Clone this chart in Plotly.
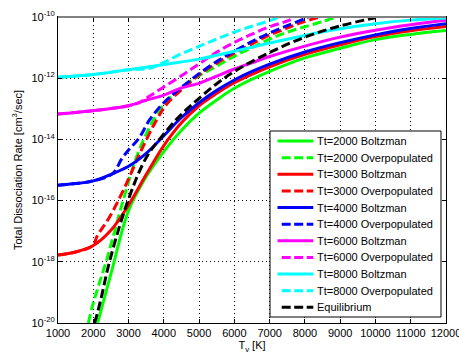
import plotly.graph_objects as go

# ---------------- data ----------------
# Tt=2000 Boltzman
t_2000_b = [2124, 2500, 3000, 3500, 4000, 4500, 5000, 5500, 6000, 7000, 8000, 9000, 10000, 11000, 12000]
k_2000_b = [1.0e-20, 4.0e-19, 4.7e-17, 6.0e-16, 4.0e-15, 2.0e-14, 7.2e-14, 1.95e-13, 4.7e-13, 1.66e-12, 4.6e-12, 9.5e-12, 1.82e-11, 2.7e-11, 3.6e-11]
# Tt=2000 Overpopulated
t_2000_o = [1860, 2000, 2400, 2850, 3230, 3500, 3700, 4000, 4500, 5000, 5500, 6000, 6500, 7000, 7500, 8000, 8500, 8900]
k_2000_o = [1.0e-20, 4.5e-20, 1.4e-18, 1.05e-16, 2.75e-15, 1.5e-14, 4.2e-14, 1.4e-13, 5.0e-13, 1.2e-12, 2.5e-12, 5.2e-12, 1.0e-11, 1.9e-11, 3.2e-11, 4.8e-11, 7.1e-11, 1.0e-10]
# Tt=3000 Boltzman
t_3000_b = [1000, 1500, 2000, 2500, 3000, 3500, 4000, 4500, 5000, 5500, 6000, 7000, 8000, 9000, 10000, 11000, 12000]
k_3000_b = [1.66e-18, 2.1e-18, 3.4e-18, 1.07e-17, 7.1e-17, 7.1e-16, 6.3e-15, 3.5e-14, 1.26e-13, 3.2e-13, 7.1e-13, 2.35e-12, 6.0e-12, 1.23e-11, 2.3e-11, 3.55e-11, 4.9e-11]
# Tt=3000 Overpopulated
t_3000_o = [1000, 1500, 2000, 2100, 2470, 2940, 3320, 3800, 4100, 4550, 5000, 5500, 6000, 6450, 6900, 7400, 7850, 8430]
k_3000_o = [1.66e-18, 2.1e-18, 3.4e-18, 6.6e-18, 3.0e-17, 3.6e-16, 3.5e-15, 4.4e-14, 1.5e-13, 4.7e-13, 1.29e-12, 3.1e-12, 6.6e-12, 1.23e-11, 2.3e-11, 3.9e-11, 6.3e-11, 1.0e-10]
# Tt=4000 Boltzman
t_4000_b = [1000, 1500, 2000, 2550, 3000, 3500, 4000, 4500, 5000, 5500, 6000, 6500, 7000, 8000, 9000, 10000, 11000, 12000]
k_4000_b = [3.2e-16, 3.6e-16, 4.4e-16, 7.6e-16, 1.32e-15, 3.5e-15, 1.32e-14, 5.2e-14, 1.58e-13, 4.0e-13, 8.7e-13, 1.66e-12, 2.9e-12, 7.2e-12, 1.45e-11, 2.6e-11, 4.2e-11, 6.0e-11]
# Tt=4000 Overpopulated
t_4000_o = [1000, 1500, 2000, 2550, 2800, 3000, 3300, 3600, 4000, 4500, 5000, 5500, 6000, 6500, 7000, 7500, 8000, 8100]
k_4000_o = [3.2e-16, 3.6e-16, 4.4e-16, 7.6e-16, 2.25e-15, 4.5e-15, 1.12e-14, 4.4e-14, 1.58e-13, 5.0e-13, 1.41e-12, 3.5e-12, 7.6e-12, 1.58e-11, 3.0e-11, 5.2e-11, 8.9e-11, 1.0e-10]
# Tt=6000 Boltzman
t_6000_b = [1000, 1500, 2000, 2500, 3000, 3500, 4000, 4500, 5000, 5500, 6000, 6500, 7000, 8000, 9000, 10000, 11000, 12000]
k_6000_b = [6.8e-14, 7.6e-14, 8.7e-14, 1.02e-13, 1.26e-13, 1.9e-13, 2.8e-13, 4.8e-13, 6.8e-13, 1.17e-12, 2.0e-12, 3.2e-12, 5.1e-12, 1.12e-11, 2.2e-11, 3.7e-11, 5.6e-11, 7.8e-11]
# Tt=6000 Overpopulated
t_6000_o = [1000, 1500, 2000, 2500, 3000, 3300, 3600, 4000, 4500, 5000, 5500, 6000, 6500, 7000, 7500, 7700]
k_6000_o = [6.8e-14, 7.6e-14, 8.7e-14, 1.02e-13, 1.26e-13, 1.6e-13, 2.6e-13, 5.2e-13, 1.2e-12, 2.95e-12, 7.1e-12, 1.48e-11, 2.75e-11, 4.8e-11, 7.4e-11, 9.3e-11]
# Tt=8000 Boltzman
t_8000_b = [1000, 2000, 3000, 4000, 5000, 6000, 7000, 8000, 9000, 10000, 11000, 12000]
k_8000_b = [1.07e-12, 1.32e-12, 1.9e-12, 2.8e-12, 4.2e-12, 7.6e-12, 1.41e-11, 2.5e-11, 4.1e-11, 6.0e-11, 7.9e-11, 9.3e-11]
# Tt=8000 Overpopulated
t_8000_o = [1000, 2000, 3000, 3600, 4000, 4500, 5000, 5500, 6000, 6500, 7000, 7300]
k_8000_o = [1.07e-12, 1.32e-12, 1.9e-12, 2.1e-12, 3.3e-12, 6.3e-12, 1.1e-11, 1.9e-11, 3.2e-11, 5.0e-11, 7.6e-11, 1.0e-10]
# Equilibrium
t_eq = [2040, 2200, 2470, 2990, 3500, 4000, 4500, 5000, 5500, 6000, 7000, 8000, 9000, 10000]
k_eq = [1.0e-20, 5.0e-20, 1.12e-18, 1.05e-16, 2.5e-15, 1.5e-14, 6.6e-14, 2.2e-13, 6.6e-13, 1.66e-12, 6.9e-12, 2.2e-11, 5.1e-11, 9.5e-11]

series_names = ["Tt=2000 Boltzman", "Tt=2000 Overpopulated",
                "Tt=3000 Boltzman", "Tt=3000 Overpopulated",
                "Tt=4000 Boltzman", "Tt=4000 Overpopulated",
                "Tt=6000 Boltzman", "Tt=6000 Overpopulated",
                "Tt=8000 Boltzman", "Tt=8000 Overpopulated",
                "Equilibrium"]
series_x = [t_2000_b, t_2000_o, t_3000_b, t_3000_o, t_4000_b, t_4000_o,
            t_6000_b, t_6000_o, t_8000_b, t_8000_o, t_eq]
series_y = [k_2000_b, k_2000_o, k_3000_b, k_3000_o, k_4000_b, k_4000_o,
            k_6000_b, k_6000_o, k_8000_b, k_8000_o, k_eq]

x_ticks = [1000, 2000, 3000, 4000, 5000, 6000, 7000, 8000, 9000, 10000, 11000, 12000]
x_ticktext = [str(v) for v in x_ticks]
y_ticks = [1e-20, 1e-18, 1e-16, 1e-14, 1e-12, 1e-10]
y_ticktext = ["10<sup>-20</sup>", "10<sup>-18</sup>", "10<sup>-16</sup>",
              "10<sup>-14</sup>", "10<sup>-12</sup>", "10<sup>-10</sup>"]

# ---------------- styles ----------------
colors = ["#00ff00", "#00ff00", "#ff0000", "#ff0000", "#0000ff", "#0000ff",
          "#ff00ff", "#ff00ff", "#00ffff", "#00ffff", "#000000"]
dashes = ["solid", "9px,4px", "solid", "9px,4px", "solid", "9px,4px",
          "solid", "9px,4px", "solid", "9px,4px", "9px,4px"]
FONT = "Liberation Sans, Arial, sans-serif"

W, H = 459, 358
L, R, T, B = 58, 13, 17, 35
PW, PH = W - L - R, H - T - B


def px(xp):
    return (xp - L) / PW


def py(yp):
    return (H - B - yp) / PH


fig = go.Figure()
for name, xs, ys, c, d in zip(series_names, series_x, series_y, colors, dashes):
    fig.add_trace(go.Scatter(x=xs, y=ys, mode="lines", name=name,
                             line=dict(color=c, width=3, dash=d),
                             line_shape="spline", showlegend=False))

# ---------------- manual legend ----------------
shapes = []
annotations = []
box_l, box_r, box_t, box_b = 270, 441, 131, 317
shapes.append(dict(type="rect", xref="paper", yref="paper",
                   x0=px(box_l), x1=px(box_r), y0=py(box_b), y1=py(box_t),
                   line=dict(color="black", width=1), fillcolor="white",
                   layer="above"))
row0, drow = 141, 16.63
for i, (name, c, d) in enumerate(zip(series_names, colors, dashes)):
    yy = py(row0 + i * drow)
    x0 = 277.5 if d == "solid" else 281.7
    shapes.append(dict(type="line", xref="paper", yref="paper",
                       x0=px(x0), x1=px(313.3), y0=yy, y1=yy,
                       line=dict(color=c, width=3,
                                 dash="solid" if d == "solid" else "9px,3.5px"),
                       layer="above"))
    annotations.append(dict(text=name, xref="paper", yref="paper",
                            x=px(315.5), y=yy, xanchor="left", yanchor="middle",
                            showarrow=False, font=dict(family=FONT, size=11, color="black"),
                            borderpad=0))

# gray top frame line
shapes.append(dict(type="line", xref="paper", yref="paper", x0=0, x1=1, y0=1, y1=1,
                   line=dict(color="#808080", width=2), layer="above"))

fig.update_layout(
    width=W, height=H,
    margin=dict(l=L, r=R, t=T, b=B, pad=0),
    paper_bgcolor="white", plot_bgcolor="white",
    font=dict(family=FONT, size=11, color="black"),
    showlegend=False,
    shapes=shapes, annotations=annotations,
    xaxis=dict(range=[1000, 12000.001], tickvals=x_ticks, ticktext=x_ticktext,
               ticks="inside", ticklen=4, ticklabeloverflow="allow",
               tickcolor="black", showline=True, linecolor="black", linewidth=1,
               mirror="ticks", showgrid=True, gridcolor="black", gridwidth=1,
               griddash="1px,3px", zeroline=False,
               tickfont=dict(family=FONT, size=11, color="black"),
               title=dict(text="T<sub>v</sub> [K]", standoff=3,
                          font=dict(family=FONT, size=11, color="black")),
               automargin=False),
    yaxis=dict(type="log", range=[-20, -10], tickvals=y_ticks, ticktext=y_ticktext,
               ticks="inside", ticklen=4, tickcolor="black", showline=True,
               linecolor="black", linewidth=1, mirror="ticks", showgrid=True,
               gridcolor="black", gridwidth=1, griddash="1px,3px", zeroline=False,
               ticklabeloverflow="allow",
               tickfont=dict(family=FONT, size=11, color="black"),
               title=dict(text="Total Dissociation Rate [cm<sup>3</sup>/sec]", standoff=6,
                          font=dict(family=FONT, size=11, color="black")),
               automargin=False),
)

fig.write_html("out.html")
